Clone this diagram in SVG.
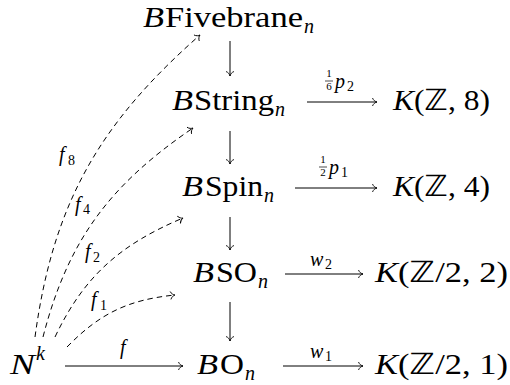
<svg xmlns="http://www.w3.org/2000/svg" width="510" height="385" viewBox="0 0 510 385">
<style>
text{font-family:"Liberation Serif",serif;fill:#000}
.m{font-size:29px}
.i{font-style:italic}
.s{font-size:20px}
.ss{font-size:14px}
.fr{font-size:11px}
.z{font-family:"DejaVu Sans",sans-serif}
.ar{fill:none;stroke:#000;stroke-width:1;marker-end:url(#ah)}
.da{stroke-dasharray:5.5 4}
</style>
<defs>
<marker id="ah" markerUnits="userSpaceOnUse" viewBox="-6 -5 7 10" refX="0" refY="0" markerWidth="7" markerHeight="10" orient="auto" overflow="visible">
<path d="M-4.5,-4 C-3.6,-1.6 -1.6,-0.4 0,0 C-1.6,0.4 -3.6,1.6 -4.5,4" fill="none" stroke="#000" stroke-width="0.9"/>
</marker>
</defs>
<g id="connectors">
<path class="ar" d="M230,41 V76"/>
<path class="ar" d="M230,131 V164"/>
<path class="ar" d="M230,217 V250"/>
<path class="ar" d="M230,302 V341"/>
<path class="ar" d="M307,102 H377"/>
<path class="ar" d="M295,188 H377"/>
<path class="ar" d="M285,274 H363"/>
<path class="ar" d="M283,366 H363"/>
<path class="ar" d="M65,366 H183"/>
<path class="ar da" d="M35,337 C53,203.8 98.9,124 200,35"/>
<path class="ar da" d="M43,337 C68,240 109.8,184.8 193,128"/>
<path class="ar da" d="M55,337 C84,276.1 120,244.6 183,218"/>
<path class="ar da" d="M67,347 C99.8,313.4 128.3,299.7 175,295"/>
<g id="labels">
<text class="s i" x="120" y="354">f</text>
<text class="s i" x="59" y="161">f</text><text class="ss" x="68" y="165">8</text>
<text class="s i" x="75" y="211">f</text><text class="ss" x="83" y="214">4</text>
<text class="s i" x="85" y="258">f</text><text class="ss" x="93" y="262">2</text>
<text class="s i" x="91" y="306">f</text><text class="ss" x="100" y="310">1</text>
<text class="fr" x="329" y="77" text-anchor="middle">1</text>
<path d="M325,81 H333" stroke="#000" stroke-width="0.7"/>
<text class="fr" x="329" y="90" text-anchor="middle">6</text>
<text class="s i" x="335" y="88">p</text><text class="ss" x="347" y="91">2</text>
<text class="fr" x="323" y="163" text-anchor="middle">1</text>
<path d="M319,167 H327" stroke="#000" stroke-width="0.7"/>
<text class="fr" x="323" y="176" text-anchor="middle">2</text>
<text class="s i" x="329" y="174">p</text><text class="ss" x="341" y="177">1</text>
<text class="s i" x="310" y="266">w</text><text class="ss" x="325" y="269">2</text>
<text class="s i" x="310" y="358">w</text><text class="ss" x="325" y="361">1</text>
</g>
</g>
<g id="BFivebrane">
<text class="m i" x="143" y="27" textLength="21" lengthAdjust="spacingAndGlyphs">B</text>
<text class="m" x="165" y="27" textLength="138" lengthAdjust="spacingAndGlyphs">Fivebrane</text>
<text class="s i" x="304" y="33">n</text>
</g>
<g id="BString">
<text class="m i" x="172" y="110" textLength="21" lengthAdjust="spacingAndGlyphs">B</text>
<text class="m" x="194" y="110" textLength="80" lengthAdjust="spacingAndGlyphs">String</text>
<text class="s i" x="275" y="116">n</text>
</g>
<g id="BSpin">
<text class="m i" x="182" y="196" textLength="21" lengthAdjust="spacingAndGlyphs">B</text>
<text class="m" x="205" y="196" textLength="58" lengthAdjust="spacingAndGlyphs">Spin</text>
<text class="s i" x="264" y="202">n</text>
</g>
<g id="BSO">
<text class="m i" x="193" y="282" textLength="21" lengthAdjust="spacingAndGlyphs">B</text>
<text class="m" x="216" y="282" textLength="41" lengthAdjust="spacingAndGlyphs">SO</text>
<text class="s i" x="258" y="288">n</text>
</g>
<g id="BO">
<text class="m i" x="197" y="374" textLength="21" lengthAdjust="spacingAndGlyphs">B</text>
<text class="m" x="220" y="374" textLength="24" lengthAdjust="spacingAndGlyphs">O</text>
<text class="s i" x="245" y="380">n</text>
</g>
<g id="Nk">
<text class="m i" x="10" y="374" textLength="25" lengthAdjust="spacingAndGlyphs">N</text>
<text class="s i" x="36" y="360">k</text>
</g>
<g id="KZ8">
<text class="m" x="393" y="110" textLength="97" lengthAdjust="spacingAndGlyphs"><tspan class="i">K</tspan>(<tspan class="z">ℤ</tspan>, 8)</text>
</g>
<g id="KZ4">
<text class="m" x="393" y="196" textLength="97" lengthAdjust="spacingAndGlyphs"><tspan class="i">K</tspan>(<tspan class="z">ℤ</tspan>, 4)</text>
</g>
<g id="KZ22">
<text class="m" x="375" y="282" textLength="133" lengthAdjust="spacingAndGlyphs"><tspan class="i">K</tspan>(<tspan class="z">ℤ</tspan>/2, 2)</text>
</g>
<g id="KZ21">
<text class="m" x="375" y="374" textLength="133" lengthAdjust="spacingAndGlyphs"><tspan class="i">K</tspan>(<tspan class="z">ℤ</tspan>/2, 1)</text>
</g>
</svg>
